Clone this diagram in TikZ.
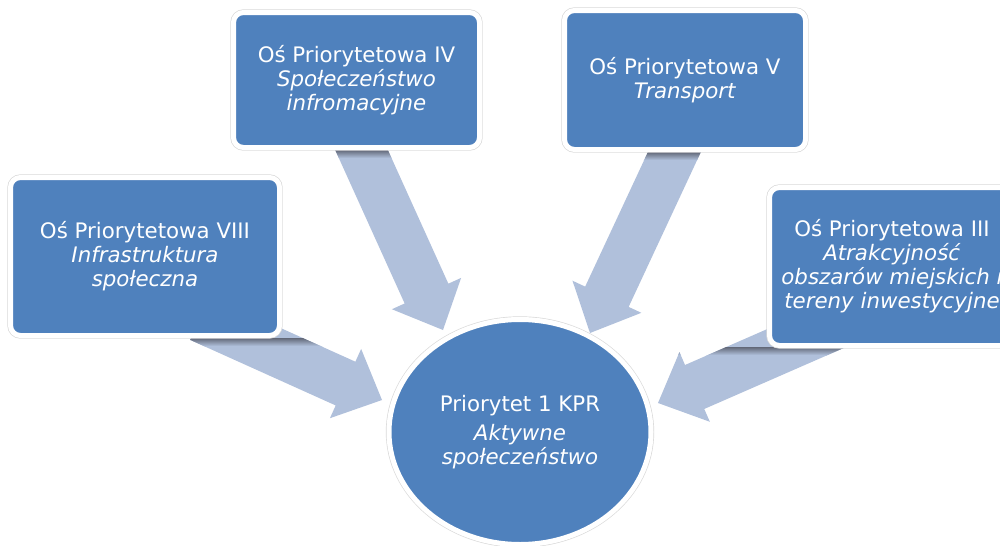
\documentclass[tikz,border=0pt]{standalone}
\usepackage{fontspec}
\setmainfont{DejaVu Sans}
\usetikzlibrary{calc,shapes.geometric}

\definecolor{boxblue}{RGB}{79,129,189}
\definecolor{arrowcol}{RGB}{176,192,219}
\definecolor{shadecol}{RGB}{98,104,120}

\tikzset{
  osbox/.style={rectangle, rounded corners=7.5pt, fill=boxblue, draw=white,
    line width=3.75pt, preaction={draw=black!15, line width=4.75pt},
    text=white, align=center, inner sep=0pt,
    font=\fontsize{16pt}{18pt}\selectfont},
  kprnode/.style={osbox, ellipse, rounded corners=0pt},
}

\begin{document}
\begin{tikzpicture}[x=0.75pt,y=-0.75pt]
    \useasboundingbox (0,0) rectangle (1000,546);
    \clip (0,0) rectangle (1000,546);

    % ends of the big arrows (tail under the box, tip at the circle)
    \coordinate (t8) at (200,318);  \coordinate (h8) at (382,400);
    \coordinate (t4) at (357,140);  \coordinate (h4) at (443,330);
    \coordinate (t5) at (680,140);  \coordinate (h5) at (590,333);
    \coordinate (t3) at (841,323);  \coordinate (h3) at (658,403);

\foreach \t/\h/\s in {t8/h8/338, t4/h4/150, t5/h5/152, t3/h3/347}{
    \coordinate (b) at ($(\h)!30pt!(\t)$);
    \begin{scope}
      \clip ($(\t)!18pt!90:(\h)$) -- ($(b)!18pt!90:(\h)$) -- ($(b)!28.5pt!90:(\h)$)
        -- (\h) -- ($(b)!28.5pt!-90:(\h)$) -- ($(b)!18pt!-90:(\h)$)
        -- ($(\t)!18pt!-90:(\h)$) -- cycle;
      \fill[arrowcol] (0,0) rectangle (1000,546);
      \shade[top color=shadecol, bottom color=arrowcol] (0,\s) rectangle (1000,\s+8);
    \end{scope}
}

    \node[osbox, minimum width=201.75pt, minimum height=118.5pt] (os8) at (145,256.5)
      {Oś Priorytetowa VIII\\ \textit{Infrastruktura}\\ \textit{społeczna}};
    \node[osbox, minimum width=184.5pt, minimum height=101.25pt] (os4) at (356.5,80)
      {Oś Priorytetowa IV\\ \textit{Społeczeństwo}\\ \textit{infromacyjne}};
    \node[osbox, minimum width=180.75pt, minimum height=104.25pt] (os5) at (685,80)
      {Oś Priorytetowa V\\ \textit{Transport}};
    \node[osbox, minimum width=183.75pt, minimum height=118.5pt] (os3) at (892,266.5)
      {Oś Priorytetowa III\\ \textit{Atrakcyjność}\\ \textit{obszarów miejskich i}\\ \textit{tereny inwestycyjne}};
    \node[kprnode, minimum width=196.5pt, minimum height=168.75pt] (kpr) at (520,432)
      {Priorytet 1 KPR\\[4pt] \textit{Aktywne}\\ \textit{społeczeństwo}};
\end{tikzpicture}
\end{document}
